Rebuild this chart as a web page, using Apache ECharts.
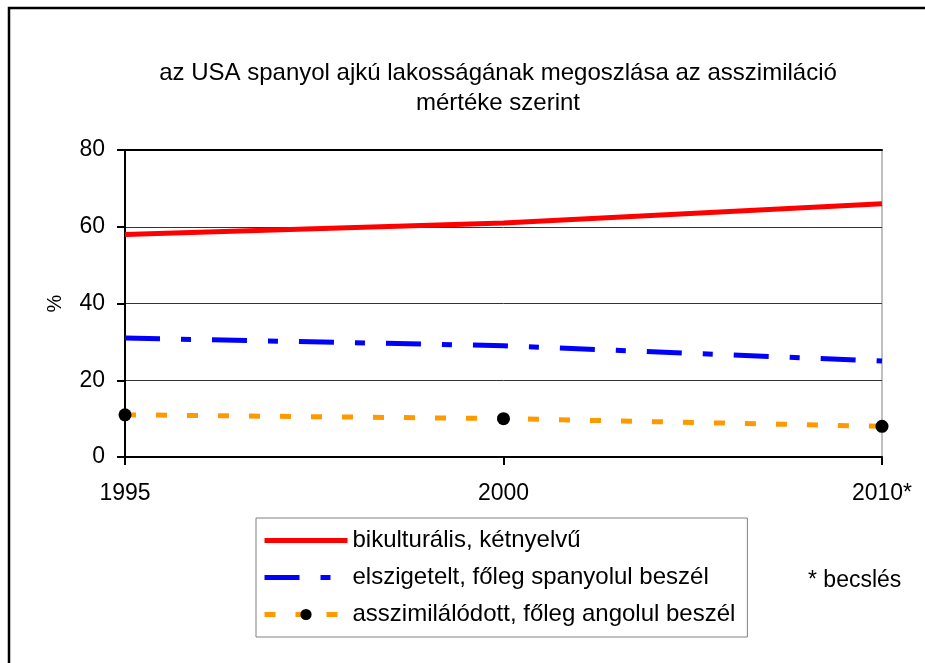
<!DOCTYPE html>
<html>
<head>
<meta charset="utf-8">
<title>az USA spanyol ajkú lakossága</title>
<script src="https://cdn.jsdelivr.net/npm/echarts@6/dist/echarts.min.js"></script>
<style>
  html, body { margin: 0; padding: 0; background: #fff; }
  #chart { width: 925px; height: 663px; }
</style>
</head>
<body>
<div id="chart"></div>
<script>
// data
var years = ['1995', '2000', '2010*']
var bikulturalis = [58, 61, 66]
var elszigetelt = [31, 29, 25]
var asszimilalodott = [11, 10, 8]
var yTicks = [0, 20, 40, 60, 80]

var font = '"Liberation Sans", Arial, sans-serif'

var chart = echarts.init(document.getElementById('chart'))

chart.setOption({
  animation: false,
  backgroundColor: '#fff',
  textStyle: { fontFamily: font, color: '#000' },
  title: {
    text: 'az USA spanyol ajkú lakosságának megoszlása az asszimiláció\nmértéke szerint',
    left: 493,
    textAlign: 'center',
    top: 53,
    textStyle: {
      fontFamily: font,
      fontSize: 24,
      fontWeight: 'normal',
      color: '#000',
      lineHeight: 30
    }
  },
  grid: {
    left: 125,
    right: 43,
    top: 150,
    bottom: 206,
    show: true,
    borderColor: '#808080',
    borderWidth: 1
  },
  legend: {
    orient: 'vertical',
    left: 256,
    top: 518,
    padding: [9, 12, 9, 6],
    itemWidth: 83,
    itemHeight: 14,
    itemGap: 10,
    borderColor: '#808080',
    borderWidth: 1,
    lineStyle: { width: 5 },
    textStyle: { fontFamily: font, fontSize: 24, color: '#000', lineHeight: 27 },
    data: [
      { name: 'bikulturális, kétnyelvű', itemStyle: { opacity: 0 } },
      { name: 'elszigetelt, főleg spanyolul beszél', itemStyle: { opacity: 0 } },
      { name: 'asszimilálódott, főleg angolul beszél' }
    ]
  },
  xAxis: [{
    type: 'category',
    data: years,
    boundaryGap: false,
    axisLine: { lineStyle: { color: '#000', width: 2 } },
    axisTick: { show: true, length: 8, lineStyle: { color: '#000', width: 2 } },
    axisLabel: { fontFamily: font, fontSize: 23, color: '#000', margin: 25 },
    splitLine: { show: false }
  }, {
    type: 'category',
    data: years,
    position: 'top',
    boundaryGap: false,
    axisLine: { lineStyle: { color: '#000', width: 2 } },
    axisTick: { show: false },
    axisLabel: { show: false }
  }],
  yAxis: {
    type: 'value',
    min: yTicks[0],
    max: yTicks[yTicks.length - 1],
    interval: 20,
    name: '%',
    nameLocation: 'middle',
    nameRotate: 90,
    nameGap: 60,
    nameTextStyle: { fontFamily: font, fontSize: 20, color: '#000' },
    axisLine: { show: true, lineStyle: { color: '#000', width: 2 } },
    axisTick: { show: true, length: 8, lineStyle: { color: '#000', width: 2 } },
    axisLabel: { fontFamily: font, fontSize: 23, color: '#000', margin: 20 },
    splitLine: { show: true, lineStyle: { color: '#333', width: 1 } }
  },
  series: [
    {
      name: 'bikulturális, kétnyelvű',
      type: 'line',
      data: bikulturalis,
      symbol: 'none',
      lineStyle: { color: '#ff0000', width: 5 },
      itemStyle: { color: '#ff0000' }
    },
    {
      name: 'elszigetelt, főleg spanyolul beszél',
      type: 'line',
      data: elszigetelt,
      symbol: 'none',
      lineStyle: { color: '#0000ff', width: 5, type: [35, 21, 10, 21] },
      itemStyle: { color: '#0000ff' }
    },
    {
      name: 'asszimilálódott, főleg angolul beszél',
      type: 'line',
      data: asszimilalodott,
      symbol: 'circle',
      symbolSize: 13,
      showSymbol: true,
      lineStyle: { color: '#ff9900', width: 5, type: [11, 20] },
      itemStyle: { color: '#000', borderWidth: 0 }
    }
  ],
  graphic: [
    {
      type: 'rect',
      shape: { x: 9, y: 8, width: 1200, height: 1200 },
      style: { fill: null, stroke: '#000', lineWidth: 2.5 },
      silent: true
    },
    {
      type: 'text',
      left: 808,
      top: 569,
      style: { text: '* becslés', font: '23px ' + font, fill: '#000' }
    }
  ]
})
</script>
</body>
</html>
